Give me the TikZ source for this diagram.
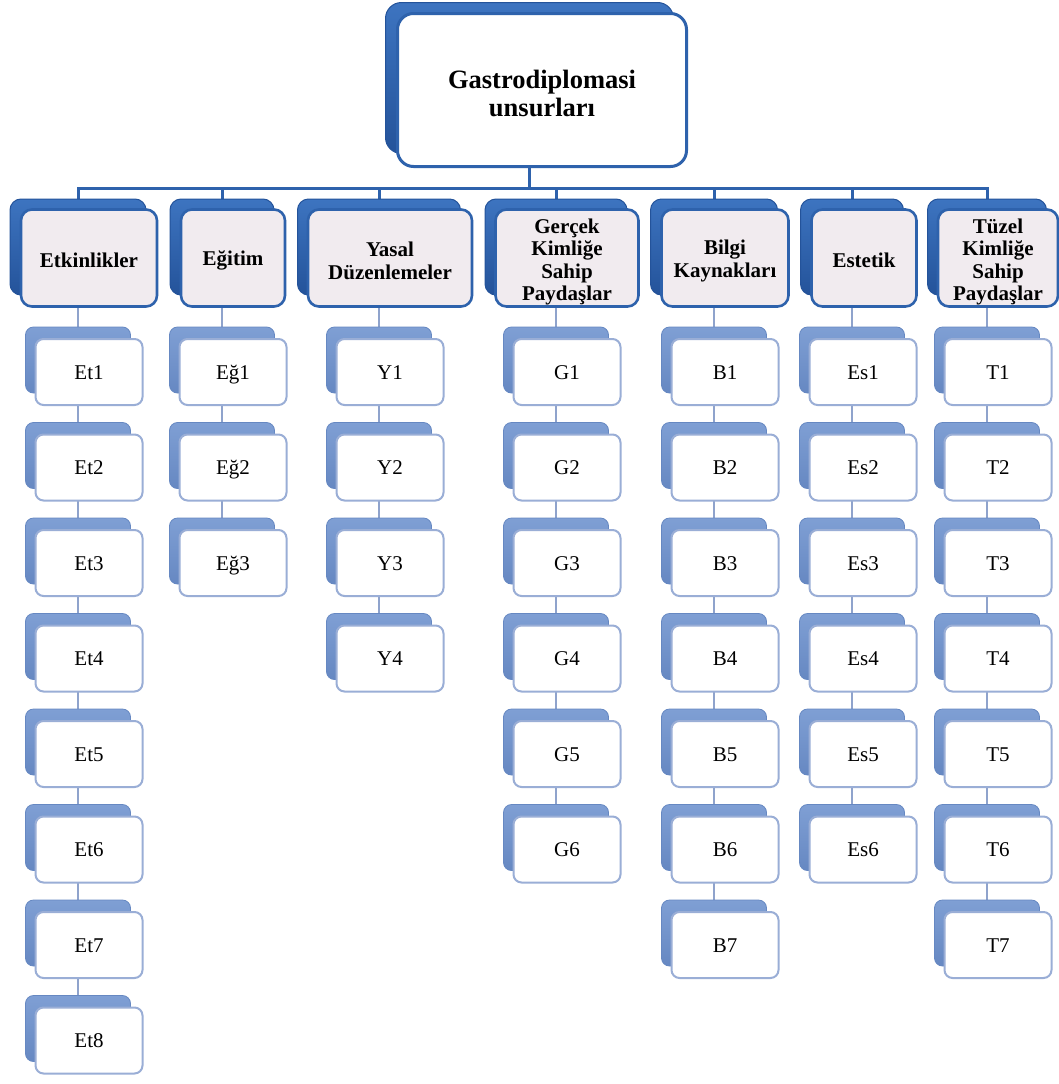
\documentclass[tikz,border=0pt]{standalone}
\usepackage{fontspec}
\setmainfont{Liberation Serif}
\usetikzlibrary{backgrounds}
\definecolor{deepblue}{HTML}{2E62AC}
\definecolor{deepblueB}{HTML}{24539A}
\definecolor{deepblueT}{HTML}{3D74C0}
\definecolor{softblueT}{HTML}{7F9FD4}
\definecolor{softblueB}{HTML}{6688C2}
\definecolor{softedge}{HTML}{9AAED6}
\definecolor{linkblue}{HTML}{8FA3CC}
\definecolor{headfill}{HTML}{F1EBEF}
\tikzset{
  rootback/.style={rectangle, rounded corners=16pt, minimum width=288pt, minimum height=151pt,
    top color=deepblueT, bottom color=deepblueB, draw=deepblueB, line width=1pt, inner sep=0pt},
  rootfront/.style={rectangle, rounded corners=16pt, minimum width=289pt, minimum height=153pt,
    fill=white, draw=deepblue, line width=3pt, inner sep=0pt},
  roottext/.style={align=center, inner sep=0pt, font=\fontsize{26.5}{28}\selectfont\bfseries},
  headback/.style={rectangle, rounded corners=11pt, minimum height=96pt,
    top color=deepblueT, bottom color=deepblueB, draw=deepblueB, line width=1pt, inner sep=0pt},
  headfront/.style={rectangle, rounded corners=11pt, minimum height=97pt,
    fill=headfill, draw=deepblue, line width=2.6pt, inner sep=0pt},
  headtext/.style={align=center, inner sep=0pt, font=\fontsize{21}{22.4}\selectfont\bfseries},
  leafback/.style={rectangle, rounded corners=8pt, minimum width=105pt, minimum height=66pt,
    top color=softblueT, bottom color=softblueB, draw=softblueB, line width=0.8pt, inner sep=0pt},
  leaffront/.style={rectangle, rounded corners=8pt, minimum width=107pt, minimum height=66pt,
    fill=white, draw=softedge, line width=2pt, inner sep=0pt, text height=16pt, text depth=2pt,
    font=\fontsize{21}{24}\selectfont},
  mainlink/.style={draw=deepblue, line width=3pt},
  leaflink/.style={draw=linkblue, line width=2.2pt}
}
\begin{document}
\begin{tikzpicture}[x=1pt,y=-1pt]
\useasboundingbox (0,0) rectangle (1059,1084);

% root element
\node[rootback] (rootsh) at (529.5,78) {};
\node[rootfront] (root) at (542,90) {};
\node[roottext] (root-t) at ([yshift=-3pt]root.center) {Gastrodiplomasi\\unsurları};
\coordinate (bus) at (0,188);

% category headers: back plate and front card
\node[headback, minimum width=136pt] (hsh-1) at (78,247) {};
\node[headfront, minimum width=136pt] (h-1) at (89,258) {};
\node[headback, minimum width=104pt] (hsh-2) at (222,247) {};
\node[headfront, minimum width=104pt] (h-2) at (233,258) {};
\node[headback, minimum width=163pt] (hsh-3) at (379,247) {};
\node[headfront, minimum width=164pt] (h-3) at (390,258) {};
\node[headback, minimum width=142pt] (hsh-4) at (556,247) {};
\node[headfront, minimum width=143pt] (h-4) at (567,258) {};
\node[headback, minimum width=127pt] (hsh-5) at (714,247) {};
\node[headfront, minimum width=127pt] (h-5) at (725,258) {};
\node[headback, minimum width=103pt] (hsh-6) at (852,247) {};
\node[headfront, minimum width=105pt] (h-6) at (864,258) {};
\node[headback, minimum width=119pt] (hsh-7) at (987,247) {};
\node[headfront, minimum width=120pt] (h-7) at (998,258) {};

% header captions
\node[headtext] (ht-1) at ([yshift=-2pt]h-1.center) {Etkinlikler};
\node[headtext] (ht-2) at ([yshift=-2pt]h-2.center) {Eğitim};
\node[headtext] (ht-3) at ([yshift=-3pt]h-3.center) {Yasal\\Düzenlemeler};
\node[headtext] (ht-4) at ([yshift=-4pt]h-4.center) {Gerçek\\Kimliğe\\Sahip\\Paydaşlar};
\node[headtext] (ht-5) at ([yshift=-3pt]h-5.center) {Bilgi\\Kaynakları};
\node[headtext] (ht-6) at ([yshift=-2pt]h-6.center) {Estetik};
\node[headtext] (ht-7) at ([yshift=-4pt]h-7.center) {Tüzel\\Kimliğe\\Sahip\\Paydaşlar};

% leaf cards under each header
\foreach \k/\cx/\pre/\n in {1/78/Et/8, 2/222/Eğ/3, 3/379/Y/4, 4/556/G/6, 5/714/B/7, 6/852/Es/6, 7/987/T/7}{
  \foreach \j in {1,...,\n}{
    \node[leafback] (csh-\k-\j) at (\cx,{360+(\j-1)*95.5}) {};
    \node[leaffront] (c-\k-\j) at ({\cx+11},{372+(\j-1)*95.5}) {\pre\j};
  }
}

% white page and connectors, kept behind the cards
\begin{pgfonlayer}{background}
  \fill[white] (0,0) rectangle (1059,1084);
  \foreach \k in {1,...,7}{
    \draw[mainlink] (rootsh.south) -- (rootsh.south |- bus) -| (hsh-\k.north);
  }
  \foreach \k/\n in {1/8, 2/3, 3/4, 4/6, 5/7, 6/6, 7/7}{
    \draw[leaflink] (hsh-\k.south) -- (csh-\k-1.north);
    \foreach \j [remember=\j as \p (initially 1)] in {2,...,\n}{
      \draw[leaflink] (csh-\k-\p.south) -- (csh-\k-\j.north);
    }
  }
\end{pgfonlayer}
\end{tikzpicture}
\end{document}
